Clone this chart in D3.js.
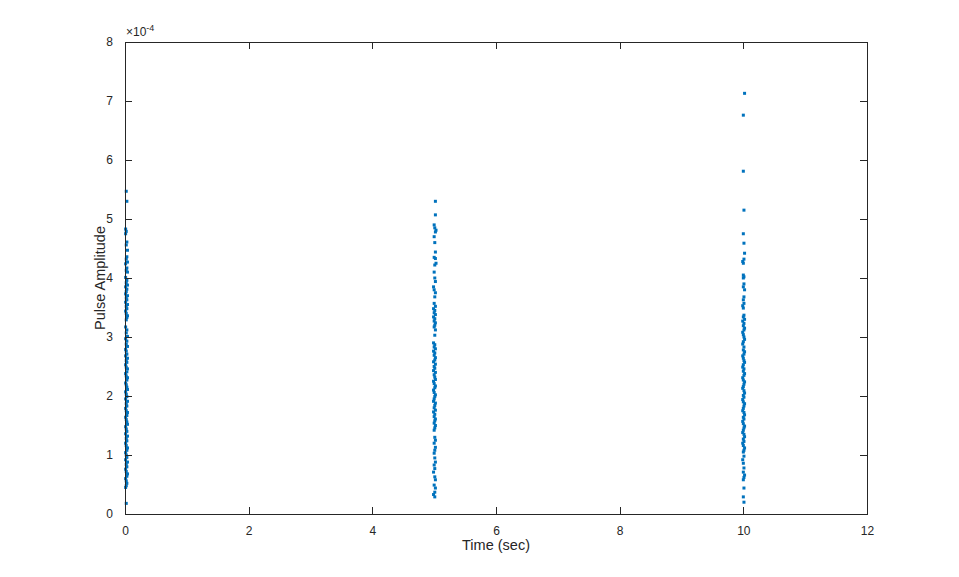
<!DOCTYPE html>
<html>
<head>
<meta charset="utf-8">
<script src="https://cdn.jsdelivr.net/npm/d3@7"></script>
<style>
  body { margin: 0; background: #fff; }
  svg { display: block; }
  text { font-family: "Liberation Sans", Arial, Helvetica, sans-serif; fill: #262626; }
</style>
</head>
<body>
<svg id="chart" width="959" height="577"></svg>
<script>
// pulse amplitudes, units of 1e-4, as [time (sec), amplitude]
var burst0 = [
  [0.02,5.47],[0.03,5.30],[0.01,4.83],[0.02,4.79],[0.01,4.75],[0.03,4.61],[0.02,4.56],[0.04,4.47],
  [0.03,4.36],[0.02,4.32],[0.04,4.27],[0.01,4.24],[0.03,4.17],[0.02,4.13],[0.04,4.10],[0.01,4.01],
  [0.03,3.96],[0.02,3.92],[0.04,3.88],[0.01,3.85],[0.03,3.81],[0.02,3.77],[0.01,3.73],[0.04,3.70],
  [0.02,3.66],[0.03,3.63],[0.01,3.59],[0.04,3.55],[0.02,3.52],[0.03,3.48],[0.01,3.44],[0.02,3.40],
  [0.04,3.36],[0.03,3.33],[0.02,3.29],[0.01,3.17],[0.03,3.12],[0.02,3.07],[0.04,3.01],[0.01,2.97],
  [0.03,2.93],[0.02,2.88],[0.04,2.84],[0.01,2.79],[0.02,2.76],[0.03,2.71],[0.01,2.68],[0.04,2.64],
  [0.02,2.60],[0.03,2.57],[0.01,2.53],[0.02,2.49],[0.04,2.46],[0.03,2.41],[0.01,2.38],[0.02,2.34],
  [0.04,2.31],[0.03,2.27],[0.01,2.22],[0.02,2.19],[0.03,2.15],[0.04,2.11],[0.01,2.07],[0.02,2.03],
  [0.03,1.99],[0.01,1.95],[0.04,1.91],[0.02,1.87],[0.03,1.83],[0.01,1.79],[0.02,1.75],[0.04,1.72],
  [0.03,1.67],[0.01,1.64],[0.02,1.60],[0.03,1.56],[0.04,1.52],[0.01,1.48],[0.02,1.44],[0.03,1.40],
  [0.01,1.36],[0.04,1.32],[0.02,1.28],[0.03,1.24],[0.01,1.20],[0.02,1.16],[0.04,1.12],[0.03,1.08],
  [0.01,1.04],[0.02,1.00],[0.03,0.96],[0.01,0.92],[0.04,0.88],[0.02,0.84],[0.03,0.80],[0.01,0.76],
  [0.02,0.72],[0.04,0.68],[0.03,0.64],[0.01,0.60],[0.02,0.56],[0.03,0.52],[0.02,0.48],[0.01,0.45],
  [0.02,0.18]
];

var burst5 = [
  [5.02,5.30],[5.02,5.07],[5.00,4.90],[5.01,4.85],[5.03,4.81],[5.02,4.78],[5.00,4.70],[5.01,4.60],
  [5.02,4.44],[5.00,4.35],[5.02,4.33],[5.03,4.25],[5.01,4.22],[5.00,4.10],[5.01,4.00],[5.02,3.94],
  [4.99,3.85],[5.00,3.80],[5.02,3.75],[5.01,3.68],[5.00,3.57],[5.02,3.52],[4.99,3.48],[5.01,3.45],
  [5.00,3.41],[5.02,3.38],[4.99,3.34],[5.01,3.31],[5.00,3.27],[5.02,3.24],[5.01,3.20],[5.00,3.17],
  [5.02,3.12],[5.01,3.03],[4.99,2.90],[5.01,2.87],[5.00,2.83],[5.02,2.80],[4.99,2.76],[5.01,2.73],
  [5.00,2.69],[5.02,2.65],[5.01,2.61],[4.99,2.58],[5.02,2.54],[5.00,2.50],[5.01,2.47],[4.99,2.43],
  [5.02,2.40],[5.00,2.36],[5.01,2.32],[5.02,2.28],[4.99,2.25],[5.00,2.21],[5.02,2.17],[5.01,2.14],
  [4.99,2.10],[5.00,2.06],[5.02,2.02],[5.01,1.99],[5.00,1.95],[4.99,1.91],[5.02,1.88],[5.01,1.84],
  [5.00,1.80],[5.02,1.76],[4.99,1.73],[5.01,1.69],[5.00,1.65],[5.02,1.61],[5.01,1.58],[5.00,1.54],
  [5.02,1.50],[5.01,1.46],[5.00,1.42],[5.01,1.30],[5.02,1.25],[5.00,1.20],[5.02,1.13],[5.01,1.08],
  [5.00,1.03],[5.01,0.95],[5.02,0.88],[5.00,0.83],[5.01,0.77],[4.99,0.71],[5.01,0.63],[5.02,0.58],
  [5.00,0.49],[5.02,0.44],[5.01,0.37],[4.99,0.33],[5.01,0.29]
];

var burst10 = [
  [10.02,7.13],[10.00,6.76],[10.00,5.81],[10.01,5.15],[10.00,4.75],[10.01,4.59],[10.02,4.42],[10.01,4.32],
  [9.99,4.28],[10.00,4.25],[10.00,4.05],[10.01,4.02],[10.00,4.00],[10.01,3.90],[10.00,3.85],[10.02,3.80],
  [10.01,3.68],[10.00,3.63],[10.01,3.57],[9.99,3.53],[10.00,3.49],[10.01,3.37],[10.00,3.34],[10.02,3.30],
  [9.99,3.27],[10.01,3.23],[10.00,3.19],[10.02,3.15],[10.01,3.12],[9.99,3.08],[10.00,3.04],[10.01,3.00],
  [10.02,2.96],[10.00,2.92],[9.99,2.88],[10.01,2.83],[10.00,2.78],[10.02,2.75],[10.01,2.71],[9.99,2.68],
  [10.00,2.64],[10.01,2.60],[10.02,2.57],[10.00,2.53],[9.99,2.49],[10.01,2.46],[10.00,2.42],[10.02,2.38],
  [10.01,2.35],[9.99,2.31],[10.00,2.27],[10.02,2.24],[10.01,2.20],[10.00,2.16],[9.99,2.13],[10.01,2.09],
  [10.02,2.05],[10.00,2.01],[10.01,1.98],[9.99,1.94],[10.00,1.90],[10.02,1.87],[10.01,1.83],[10.00,1.79],
  [9.99,1.75],[10.01,1.72],[10.02,1.68],[10.00,1.64],[10.01,1.61],[9.99,1.57],[10.00,1.53],[10.02,1.49],
  [10.01,1.46],[10.00,1.42],[9.99,1.38],[10.01,1.35],[10.02,1.31],[10.00,1.27],[10.01,1.23],[9.99,1.20],
  [10.00,1.16],[10.02,1.12],[10.01,1.08],[10.00,1.05],[10.01,0.98],[9.99,0.92],[10.00,0.86],[10.01,0.78],
  [10.00,0.71],[10.02,0.66],[10.01,0.62],[10.00,0.58],[10.01,0.44],[10.00,0.29],[10.01,0.20]
];

var xTicks = [0, 2, 4, 6, 8, 10, 12];
var yTicks = [0, 1, 2, 3, 4, 5, 6, 7, 8];
var xLabel = "Time (sec)";
var yLabel = "Pulse Amplitude";

var svg = d3.select("#chart");
// plot box (window.top is read only, so use pLeft etc.)
var pLeft = 125, pRight = 867, pTop = 42, pBottom = 514;
var axisColor = "#262626", dotColor = "#0072BD";
var tickLen = 7;

var x = d3.scaleLinear().domain([0, 12]).range([pLeft, pRight]);
var y = d3.scaleLinear().domain([0, 8]).range([pBottom, pTop]);

// dots
var points = burst0.concat(burst5, burst10);
svg.append("g").selectAll("rect")
  .data(points)
  .enter()
  .append("rect")
  .attr("x", d => x(d[0]) - 1.5)
  .attr("y", d => y(d[1]) - 1.5)
  .attr("width", 3)
  .attr("height", 3)
  .attr("fill", dotColor);

// box
svg.append("rect")
  .attr("x", pLeft).attr("y", pTop)
  .attr("width", pRight - pLeft).attr("height", pBottom - pTop)
  .attr("fill", "none").attr("stroke", axisColor).attr("stroke-width", 1)
  .attr("shape-rendering", "crispEdges");

// axes with ticks pointing inward (both sides)
function styleAxis(g){
  g.select(".domain").remove();
  g.selectAll("line").attr("stroke", axisColor).attr("shape-rendering", "crispEdges");
  g.selectAll("text").attr("font-size", "12px").style("fill", axisColor)
   .attr("font-family", "'Liberation Sans', Arial, sans-serif");
}

svg.append("g").attr("transform", "translate(0," + pBottom + ")")
  .call(d3.axisBottom(x).tickValues(xTicks).tickSizeInner(-tickLen).tickSizeOuter(0).tickPadding(tickLen + 5))
  .call(styleAxis);
svg.append("g").attr("transform", "translate(0," + pTop + ")")
  .call(d3.axisTop(x).tickValues(xTicks).tickSizeInner(-tickLen).tickSizeOuter(0).tickFormat(""))
  .call(styleAxis);
svg.append("g").attr("transform", "translate(" + pLeft + ",0)")
  .call(d3.axisLeft(y).tickValues(yTicks).tickSizeInner(-tickLen).tickSizeOuter(0).tickPadding(tickLen + 5))
  .call(styleAxis);
svg.append("g").attr("transform", "translate(" + pRight + ",0)")
  .call(d3.axisRight(y).tickValues(yTicks).tickSizeInner(-tickLen).tickSizeOuter(0).tickFormat(""))
  .call(styleAxis);

// exponent
var ex = svg.append("text").attr("x", pLeft + 1).attr("y", pTop - 6)
  .attr("font-size", "12px");
ex.append("tspan").text("\u00d710");
ex.append("tspan").attr("dy", -5).attr("font-size", "9px").text("-4");

// labels
svg.append("text")
  .attr("x", (pLeft + pRight) / 2).attr("y", 550)
  .attr("text-anchor", "middle").attr("font-size", "14.5px")
  .text(xLabel);
svg.append("text")
  .attr("transform", "translate(105," + (pTop + pBottom) / 2 + ") rotate(-90)")
  .attr("text-anchor", "middle").attr("font-size", "14.5px")
  .text(yLabel);
</script>
</body>
</html>
